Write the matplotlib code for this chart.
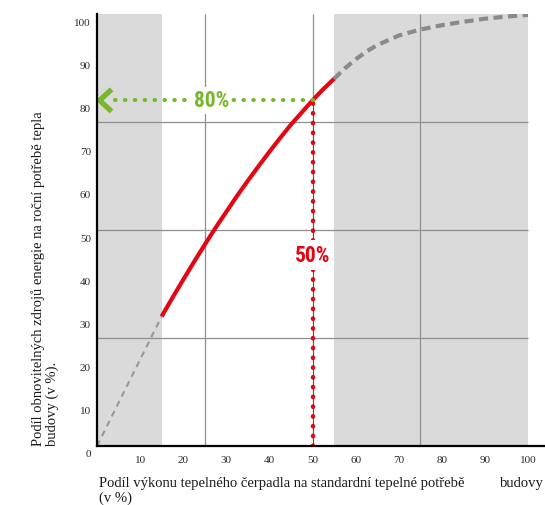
import os
import matplotlib
matplotlib.use("Agg")
import matplotlib.pyplot as plt
from matplotlib import font_manager as fm
from matplotlib.transforms import offset_copy

# ---- data ----
xtick_vals = [10, 20, 30, 40, 50, 60, 70, 80, 90, 100]
ytick_vals = [0, 10, 20, 30, 40, 50, 60, 70, 80, 90, 100]
grid_vals = [25, 50, 75]
shade_left = (0, 15)
shade_right = (55, 100)

low_x = [0, 15]
low_y = [0, 30]
red_x = [15, 17.5, 20, 22.5, 25, 27.5, 30, 32.5, 35, 37.5, 40, 42.5, 45, 47.5, 50, 52.5, 55]
red_y = [30.0, 34.3, 38.5, 42.6, 46.6, 50.5, 54.2, 57.9, 61.4, 64.8, 68.1, 71.3, 74.4, 77.2, 80.0, 82.6, 85.0]
high_x = [55, 57.5, 60, 62.5, 65, 70, 75, 80, 85, 90, 95, 100]
high_y = [85.0, 87.4, 89.5, 91.3, 92.8, 95.0, 96.4, 97.4, 98.2, 98.9, 99.4, 99.8]

point_x = 50
point_y = 80
arrow_end_x = 4
label_green = "80%"
label_red = "50%"

ylabel = "Podíl obnovitelných zdrojů energie na roční potřebě tepla\nbudovy (v %)."
xlabel_1 = "Podíl výkonu tepelného čerpadla na standardní tepelné potřebě"
xlabel_2 = "budovy"
xlabel_3 = "(v %)"

GREEN = "#76b82a"
RED = "#e30613"
SHADE = "#dadada"
GRID = "#8f8f8f"
SERIF = ["Liberation Serif", "DejaVu Serif"]


def narrow_bold(size):
    prefs = ["liberationsansnarrow-bold.", "robotocondensed-bold", "opensans_condensed-bold",
             "opensanscondensed-bold", "opensans-condensedbold", "dejavusanscondensed-bold."]
    found = {}
    for f in fm.fontManager.ttflist:
        b = os.path.basename(f.fname).lower()
        for p in prefs:
            if b.startswith(p) and "italic" not in b and "oblique" not in b:
                found.setdefault(p, f.fname)
    for p in prefs:
        if p in found:
            return fm.FontProperties(fname=found[p], size=size)
    for f in fm.fontManager.ttflist:
        b = os.path.basename(f.fname).lower()
        if ("narrow" in b or "condensed" in b) and "bold" in b and "italic" not in b \
                and "oblique" not in b:
            return fm.FontProperties(fname=f.fname, size=size)
    return fm.FontProperties(family="Liberation Sans", weight="bold", size=size * 0.85)


W, H = 545, 506
fig = plt.figure(figsize=(W / 100, H / 100), dpi=100)
fig.patch.set_facecolor("white")
x0, x1, ytop, ybot = 97, 545, 15, 447
ax = fig.add_axes([x0 / W, 1 - ybot / H, (x1 - x0) / W, (ybot - ytop) / H])
px_per_unit = (528 - 97) / 100.0
ax.set_xlim(0, (x1 - x0) / px_per_unit)
ax.set_ylim(0, 100)

for s in ["top", "right"]:
    ax.spines[s].set_visible(False)
for s in ["left", "bottom"]:
    ax.spines[s].set_linewidth(1.6)
    ax.spines[s].set_color("black")
    ax.spines[s].set_zorder(6)
ax.set_xticks([])
ax.set_yticks([])

# shading
ax.axvspan(*shade_left, color=SHADE, lw=0, zorder=0)
ax.axvspan(*shade_right, color=SHADE, lw=0, zorder=0)

# grid
ax.vlines(grid_vals, 0, 100, color=GRID, lw=0.9, zorder=1)
ax.hlines(grid_vals, 0, 100, color=GRID, lw=0.9, zorder=1)

# curves
ax.plot(low_x, low_y, color="#999999", lw=1.5, linestyle=(0, (2.9, 2.4)),
        dash_capstyle="butt", zorder=3)
ax.plot(high_x, high_y, color="#8a8a8a", lw=3.0, linestyle=(0, (2.2, 1.3)),
        dash_capstyle="butt", zorder=3)
ax.plot(red_x, red_y, color=RED, lw=3.0, solid_capstyle="butt",
        solid_joinstyle="round", zorder=4)

# red vertical dotted guide
ax.plot([point_x, point_x], [0, point_y], color=RED, lw=0.6, zorder=2)
ax.plot([point_x, point_x], [0, point_y], color=RED, lw=3.2,
        linestyle=(0, (0.1, 2.1)), dash_capstyle="round", zorder=5)

# green horizontal dotted guide with chevron
ax.plot([point_x, arrow_end_x], [point_y, point_y], color=GREEN, lw=3.0,
        linestyle=(0, (0.1, 2.27)), dash_capstyle="round", zorder=6)
ch_dx = 12 / px_per_unit
ch_dy = 11 / px_per_unit
ax.plot([0.6 + ch_dx, 0.6, 0.6 + ch_dx],
        [point_y + ch_dy, point_y, point_y - ch_dy],
        color=GREEN, lw=3.8, solid_joinstyle="miter", solid_capstyle="butt",
        zorder=6, clip_on=False)

fp = narrow_bold(15.5)
ax.text(26.6, point_y, label_green, color=GREEN, fontproperties=fp,
        ha="center", va="center", zorder=7,
        bbox=dict(facecolor="white", edgecolor="none", pad=1.5))
ax.text(point_x, 44.2, label_red, color=RED, fontproperties=fp,
        ha="center", va="center", zorder=7,
        bbox=dict(facecolor="white", edgecolor="none", pad=3))

# tick labels
ytr = offset_copy(ax.get_yaxis_transform(), fig=fig, x=-6, y=-8, units="dots")
for v in ytick_vals:
    ax.text(0, v, str(v), transform=ytr, ha="right", va="center",
            fontsize=8, family=SERIF, color="#2a2a2a", clip_on=False)
xtr = offset_copy(ax.get_xaxis_transform(), fig=fig, x=0, y=-14, units="dots")
for v in xtick_vals:
    ax.text(v, 0, str(v), transform=xtr, ha="center", va="center",
            fontsize=8, family=SERIF, color="#2a2a2a", clip_on=False)

# axis labels
fig.text(45 / W, 1 - 446 / H, ylabel, rotation=90, ha="center", va="bottom",
         multialignment="left", fontsize=10.5, family=SERIF, color="#1a1a1a",
         linespacing=1.1)
fig.text(99 / W, 1 - 484 / H, xlabel_1, ha="left", va="center",
         fontsize=10.5, family=SERIF, color="#1a1a1a")
fig.text(500 / W, 1 - 484 / H, xlabel_2, ha="left", va="center",
         fontsize=10.5, family=SERIF, color="#1a1a1a")
fig.text(99 / W, 1 - 498 / H, xlabel_3, ha="left", va="center",
         fontsize=10.5, family=SERIF, color="#1a1a1a")

fig.savefig("out.png", dpi=100)
